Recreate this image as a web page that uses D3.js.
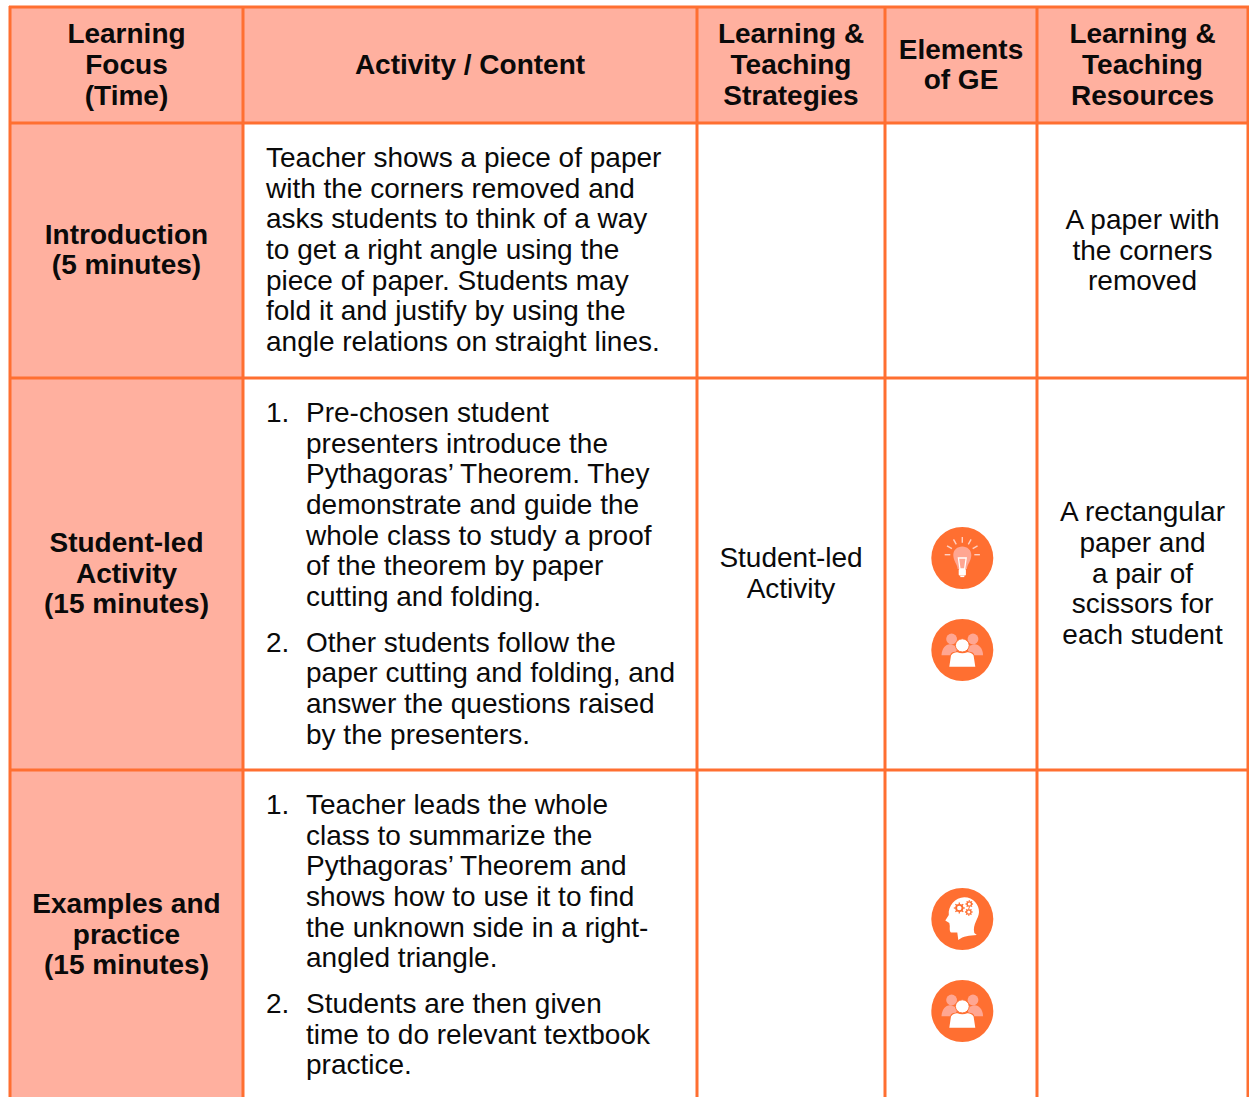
<!DOCTYPE html>
<html><head><meta charset="utf-8"><script src="https://cdnjs.cloudflare.com/ajax/libs/d3/7.8.5/d3.min.js"></script>
<style>html,body{margin:0;padding:0;background:#fff;overflow:hidden}svg{display:block}text{font-family:"Liberation Sans",Arial,sans-serif;fill:#0a0a0a}</style></head><body><script>
const columns=["focus","activity","strategies","elements","resources"];
const rows=["header","intro","student","examples"];
const headerTexts=[["Learning","Focus","(Time)"],["Activity / Content"],["Learning &","Teaching","Strategies"],["Elements","of GE"],["Learning &","Teaching","Resources"]];
const focusTexts=[["Introduction","(5 minutes)"],["Student-led","Activity","(15 minutes)"],["Examples and","practice","(15 minutes)"]];
const introActivity=["Teacher shows a piece of paper","with the corners removed and","asks students to think of a way","to get a right angle using the","piece of paper. Students may","fold it and justify by using the","angle relations on straight lines."];
const studentList=[["Pre-chosen student","presenters introduce the","Pythagoras’ Theorem. They","demonstrate and guide the","whole class to study a proof","of the theorem by paper","cutting and folding."],["Other students follow the","paper cutting and folding, and","answer the questions raised","by the presenters."]];
const examplesList=[["Teacher leads the whole","class to summarize the","Pythagoras’ Theorem and","shows how to use it to find","the unknown side in a right-","angled triangle."],["Students are then given","time to do relevant textbook","practice."]];
const strategyTexts=[[],["Student-led","Activity"],[]];
const resourceTexts=[["A paper with","the corners","removed"],["A rectangular","paper and","a pair of","scissors for","each student"],[]];
const elementIcons=[[],["bulb","people"],["head","people"]];

const W=1249,H=1097,ORANGE="#ff6f31",PEACH="#ffb09f",FS=28,LH=30.65;
const colEdges=[10,243,697,885,1037,1248];
const rowEdges=[7,123,378,770,1140];
const x=d3.scaleOrdinal().domain(columns).range(colEdges.slice(0,-1));
const xEnd=d3.scaleOrdinal().domain(columns).range(colEdges.slice(1));
const y=d3.scaleOrdinal().domain(rows).range(rowEdges.slice(0,-1));
const yEnd=d3.scaleOrdinal().domain(rows).range(rowEdges.slice(1));
const svg=d3.select("body").append("svg").attr("width",W).attr("height",H).attr("viewBox",`0 0 ${W} ${H}`);

svg.selectAll("rect.hdr").data(columns).join("rect").attr("x",x).attr("y",y("header")).attr("width",c=>xEnd(c)-x(c)).attr("height",yEnd("header")-y("header")).attr("fill",PEACH);
svg.selectAll("rect.foc").data(rows.slice(1)).join("rect").attr("class","foc").attr("x",x("focus")).attr("y",y).attr("width",xEnd("focus")-x("focus")).attr("height",r=>yEnd(r)-y(r)).attr("fill",PEACH);

function lines(parent,arr,cx,cy,opt={}){
  const y0=opt.top!==undefined?opt.top:cy-(arr.length-1)*LH/2;
  parent.append("g").selectAll("text").data(arr).join("text")
    .attr("x",cx).attr("y",(d,i)=>y0+i*LH+FS*0.325)
    .attr("text-anchor",opt.anchor||"middle")
    .attr("font-size",FS).attr("font-weight",opt.bold?700:400).text(d=>d);
}
const mid=c=>(x(c)+xEnd(c))/2, midY=r=>(y(r)+yEnd(r))/2;
headerTexts.forEach((t,i)=>lines(svg,t,mid(columns[i]),midY("header")-0.2,{bold:true}));
const focusCentres=[250,573.5,934.5];
focusTexts.forEach((t,i)=>lines(svg,t,mid("focus"),focusCentres[i],{bold:true}));
lines(svg,introActivity,266,0,{anchor:"start",top:158});
function list(items,tops){
  items.forEach((it,i)=>{
    lines(svg,[(i+1)+"."],266,0,{anchor:"start",top:tops[i]});
    lines(svg,it,306,0,{anchor:"start",top:tops[i]});
  });
}
list(studentList,[413,642.5]);
list(examplesList,[805,1004]);
lines(svg,strategyTexts[1],mid("strategies"),573.5);
lines(svg,resourceTexts[0],mid("resources"),250.5);
lines(svg,resourceTexts[1],mid("resources"),573.5);

const BADGE=31,SOFT="#ffa692",RAY="#ffd0c2";
function gear(g,cx,cy,r){
  const teeth=8;
  d3.range(teeth).forEach(i=>{const a=i*2*Math.PI/teeth;
    g.append("line").attr("x1",cx+Math.cos(a)*r*0.8).attr("y1",cy+Math.sin(a)*r*0.8).attr("x2",cx+Math.cos(a)*r*1.25).attr("y2",cy+Math.sin(a)*r*1.25).attr("stroke",ORANGE).attr("stroke-width",1.3);});
  g.append("circle").attr("cx",cx).attr("cy",cy).attr("r",r*0.72).attr("fill","none").attr("stroke",ORANGE).attr("stroke-width",r*0.42);
}
const draw={
 bulb(g){
  d3.range(7).forEach(i=>{const a=(-90+(i-3)*30)*Math.PI/180;
    g.append("line").attr("x1",Math.cos(a)*12).attr("y1",Math.sin(a)*12-3.3).attr("x2",Math.cos(a)*17.6).attr("y2",Math.sin(a)*17.6-3.3).attr("stroke",RAY).attr("stroke-width",1.4);});
  g.append("path").attr("d","M-4.6 11 C-5 6,-9 3,-9 -3 C-9 -8,-5 -11.5,0 -11.5 C5 -11.5,9 -8,9 -3 C9 3,5 6,4.6 11Z").attr("fill",SOFT);
  g.append("path").attr("d","M-3.9 0H3.9L2.3 11H-2.3Z").attr("fill","none").attr("stroke","#fff").attr("stroke-width",1.3);
  g.append("rect").attr("x",-3.6).attr("y",11).attr("width",7.2).attr("height",6.6).attr("rx",1).attr("fill","#fff");
  g.append("rect").attr("x",-2).attr("y",17.6).attr("width",4).attr("height",1.5).attr("fill","#fff");
 },
 people(g){
  [-1,1].forEach(s=>{
    g.append("circle").attr("cx",s*10.7).attr("cy",-11).attr("r",5.4).attr("fill",SOFT);
    g.append("path").attr("d",`M${s*20.8} 5.3 C${s*20.5} -2,${s*16} -6.5,${s*11} -5.5 L${s*4} -3 L${s*8} 5.3Z`).attr("fill",SOFT);
  });
  g.append("path").attr("d","M-14 17 L-12 5 C-11 1,-6 1,0 3.2 C6 1,11 1,12 5 L14 17Z").attr("fill",ORANGE);
  g.append("path").attr("d","M-13 16.7 L-11.3 5.5 C-10 2.5,-6 2,-5 2.2 C-2 3.6,2 3.6,5 2.2 C6 2,10 2.5,11.3 5.5 L13 16.7Z").attr("fill","#fff");
  g.append("ellipse").attr("cx",0).attr("cy",-4.6).attr("rx",6.9).attr("ry",6.6).attr("fill","#fff").attr("stroke",ORANGE).attr("stroke-width",1);
 },
 head(g){
  g.append("path").attr("d","M-4 21 L-5 13.5 L-11 13.5 C-13 13,-12.5 9,-12.5 7 L-13 4 L-17 1.5 L-13.5 -4 C-14.5 -13,-7 -21.7,2 -21.7 C11 -21.7,17 -14,16.7 -7 C16.5 0,10 5,12 14 L14.5 16 C7 16.5,1 17,-4 21Z").attr("fill","#fff");
  gear(g,-3,-11,4.4);
  gear(g,7,-15,3);
  gear(g,6.5,-7,3);
 }
};
const iconCentres=[[],[558,650],[919,1011]];
elementIcons.forEach((ic,i)=>ic.forEach((name,j)=>{
  const g=svg.append("g").attr("transform",`translate(${mid("elements")+1.3},${iconCentres[i][j]})`);
  g.append("circle").attr("r",BADGE).attr("fill",ORANGE);
  draw[name](g);
}));

svg.selectAll("line.v").data(colEdges).join("line").attr("class","v").attr("x1",d=>d).attr("x2",d=>d).attr("y1",6).attr("y2",H).attr("stroke",ORANGE).attr("stroke-width",3);
svg.selectAll("line.h").data(rowEdges.slice(0,-1)).join("line").attr("class","h").attr("x1",9).attr("x2",1249).attr("y1",d=>d).attr("y2",d=>d).attr("stroke",ORANGE).attr("stroke-width",3);
</script></body></html>
